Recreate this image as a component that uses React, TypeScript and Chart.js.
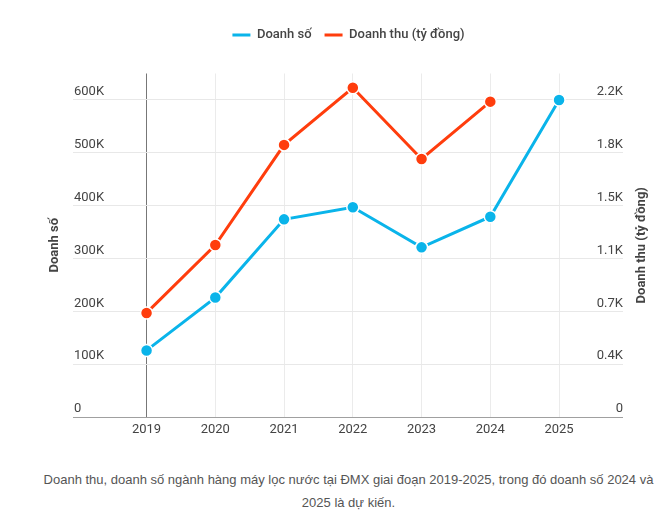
import React, { useEffect, useRef } from 'react';
import { Chart, registerables } from 'chart.js';

Chart.register(...registerables);

const years = [2019, 2020, 2021, 2022, 2023, 2024, 2025];
const doanhSo = [126000, 226000, 374000, 397000, 321000, 379000, 600000];
const doanhThu = [722, 1193, 1888, 2284, 1790, 2188];
const leftTicks = [0, 100000, 200000, 300000, 400000, 500000, 600000];
const leftLabels = ['0', '100K', '200K', '300K', '400K', '500K', '600K'];
const rightTicks = [0, 366.67, 733.33, 1100, 1466.67, 1833.33, 2200];
const rightLabels = ['0', '0.4K', '0.7K', '1.1K', '1.5K', '1.8K', '2.2K'];
const leftTitle = 'Doanh số';
const rightTitle = 'Doanh thu (tỷ đồng)';
const captionLines = [
  'Doanh thu, doanh số ngành hàng máy lọc nước tại ĐMX giai đoạn 2019-2025, trong đó doanh số 2024 và',
  '2025 là dự kiến.',
];

const BLUE = '#0ab4ea';
const RED = '#ff3d0d';
const TEXT = '#444444';

const legendSpacer = {
  id: 'legendSpacer',
  beforeInit(chart: any) {
    const legend = chart.legend;
    if (!legend) return;
    const orig = legend.fit;
    legend.fit = function () {
      orig.call(this);
      this.height += 22;
    };
  },
};

const rightTitlePlugin = {
  id: 'rightTitlePlugin',
  afterDraw(chart: any) {
    const { ctx, chartArea } = chart;
    const s = chart.scales.y1;
    ctx.save();
    ctx.translate(s.right - 25.3, (chartArea.top + chartArea.bottom) / 2);
    ctx.rotate(-Math.PI / 2);
    ctx.font = 'bold 13px Roboto';
    ctx.fillStyle = TEXT;
    ctx.textAlign = 'center';
    ctx.textBaseline = 'middle';
    ctx.fillText(rightTitle, 0, 0);
    ctx.restore();
  },
};

export default function App() {
  const ref = useRef<HTMLCanvasElement | null>(null);

  useEffect(() => {
    if (!ref.current) return;
    Chart.defaults.font.family = 'Roboto';
    const chart = new Chart(ref.current, {
      type: 'line',
      data: {
        datasets: [
          {
            label: 'Doanh số',
            data: years.map((y, i) => ({ x: y, y: doanhSo[i] })),
            yAxisID: 'y',
            borderColor: BLUE,
            backgroundColor: BLUE,
            borderWidth: 3,
            pointRadius: 6,
            pointBackgroundColor: BLUE,
            pointBorderColor: '#ffffff',
            pointBorderWidth: 1.5,
            tension: 0,
          },
          {
            label: 'Doanh thu (tỷ đồng)',
            data: doanhThu.map((v, i) => ({ x: years[i], y: v })),
            yAxisID: 'y1',
            borderColor: RED,
            backgroundColor: RED,
            borderWidth: 3,
            pointRadius: 6,
            pointBackgroundColor: RED,
            pointBorderColor: '#ffffff',
            pointBorderWidth: 1.5,
            tension: 0,
          },
        ],
      },
      options: {
        animation: false,
        responsive: false,
        layout: { padding: { top: 15.5, left: 0, right: 0, bottom: 0 } },
        plugins: {
          tooltip: { enabled: false },
          legend: {
            position: 'top',
            labels: {
              boxWidth: 18,
              boxHeight: 3,
              padding: 13,
              color: TEXT,
              font: { size: 13, weight: '500' as any },
              generateLabels: (c: any) =>
                c.data.datasets.map((ds: any, i: number) => ({
                  text: ds.label,
                  fillStyle: ds.borderColor,
                  strokeStyle: ds.borderColor,
                  lineWidth: 0,
                  hidden: false,
                  datasetIndex: i,
                  fontColor: TEXT,
                })),
            },
          },
        },
        scales: {
          x: {
            type: 'linear',
            min: 2017.93,
            max: 2025.93,
            afterBuildTicks: (s: any) => {
              s.ticks = years.map((v) => ({ value: v }));
            },
            afterFit: (s: any) => {
              s.height = 33;
            },
            grid: {
              color: (ctx: any) => (ctx.tick && ctx.tick.value === 2019 ? '#777777' : '#ebebeb'),
              drawTicks: false,
              lineWidth: 1,
            },
            border: { display: false },
            ticks: {
              padding: 5,
              color: TEXT,
              font: { size: 13 },
              autoSkip: false,
              maxRotation: 0,
              callback: (v: any) => String(v),
            },
          },
          y: {
            position: 'left',
            min: 0,
            max: 650000,
            afterBuildTicks: (s: any) => {
              s.ticks = leftTicks.map((v) => ({ value: v }));
            },
            afterFit: (s: any) => {
              s.width = 43;
            },
            grid: {
              color: (ctx: any) => (ctx.tick && ctx.tick.value === 0 ? '#a0a0a0' : '#e8e8e8'),
              drawTicks: false,
            },
            border: { display: false },
            ticks: {
              mirror: true,
              padding: 1,
              labelOffset: -8,
              color: TEXT,
              font: { size: 13 },
              callback: (_v: any, i: number) => leftLabels[i],
            },
            title: {
              display: true,
              text: leftTitle,
              color: TEXT,
              font: { size: 13, weight: 'bold' },
              padding: { top: 17, bottom: 0 },
            },
          },
          y1: {
            position: 'right',
            min: 0,
            max: 2383.33,
            afterBuildTicks: (s: any) => {
              s.ticks = rightTicks.map((v) => ({ value: v }));
            },
            afterFit: (s: any) => {
              s.width = 44;
            },
            grid: { drawOnChartArea: false, drawTicks: false },
            border: { display: false },
            ticks: {
              mirror: true,
              padding: 0,
              labelOffset: -8,
              color: TEXT,
              font: { size: 13 },
              callback: (_v: any, i: number) => rightLabels[i],
            },
            title: { display: false },
          },
        },
      } as any,
      plugins: [legendSpacer as any, rightTitlePlugin as any],
    });
    return () => chart.destroy();
  }, []);

  return (
    <div style={{ position: 'absolute', left: 0, top: 0, width: 667, height: 521, background: '#fff' }}>
      <canvas
        ref={ref}
        width={637}
        height={450}
        style={{ position: 'absolute', left: 30, top: 0, width: 637, height: 450, display: 'block' }}
      />
      <div
        style={{
          position: 'absolute',
          left: 30,
          top: 468,
          width: 637,
          textAlign: 'center',
          fontFamily: '"Liberation Sans", Arial, sans-serif',
          fontSize: 13,
          lineHeight: '23px',
          color: '#555555',
          whiteSpace: 'nowrap',
        }}
      >
        {captionLines.map((l, i) => (
          <div key={i}>{l}</div>
        ))}
      </div>
    </div>
  );
}
